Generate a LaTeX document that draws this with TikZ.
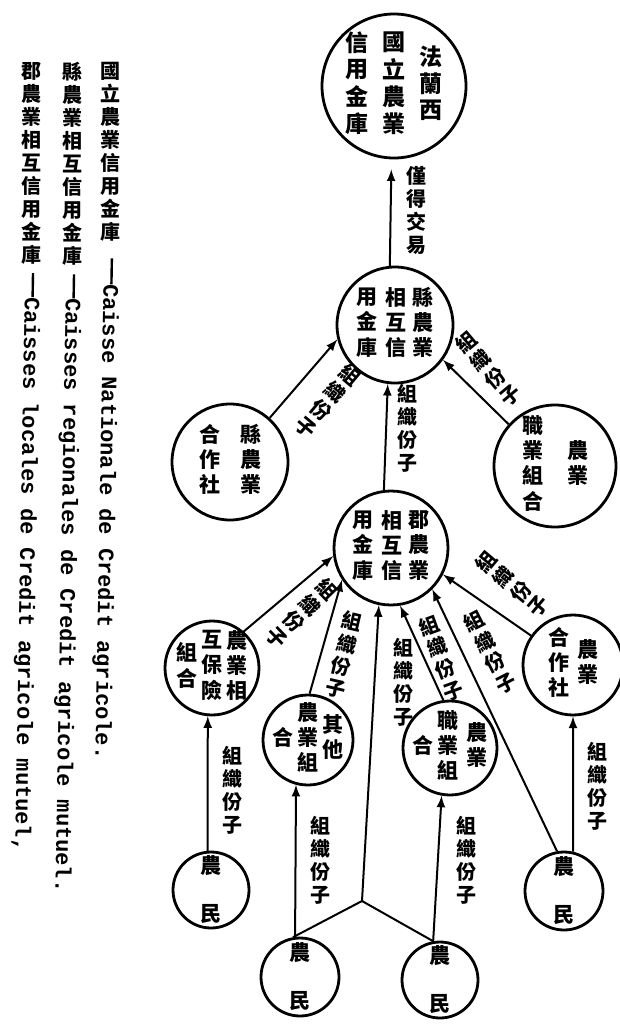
\documentclass[tikz,border=0pt]{standalone}
\usepackage{fontspec}
\newfontfamily\zh{Noto Sans CJK TC}
\newfontfamily\fr{Liberation Mono}
\usepackage{tikz}
\usetikzlibrary{arrows}
\newcommand{\tate}[1]{\begin{tabular}{@{}c@{}}#1\end{tabular}}
\tikzset{
  bank/.style={draw,circle,line width=1.4pt,inner sep=0pt,minimum size=#1},
  every label/.style={inner sep=0pt,align=center,font=\zh\bfseries\fontsize{10.5}{12}\selectfont},
  link/.style={-latex,line width=1pt},
  note/.style={inner sep=0pt,align=center,font=\zh\bfseries\fontsize{10}{11.5}\selectfont},
  roman/.style={inner sep=0pt,rotate=-91,anchor=west,font=\fr\bfseries\fontsize{11}{13}\selectfont},
}

\begin{document}
\begin{tikzpicture}[x=0.5pt,y=-0.5pt]
\useasboundingbox (0,0) rectangle (620,1033);
\node[bank=72pt,label={[font=\zh\bfseries\fontsize{11.5}{12.5}\selectfont]center:{\tate{信\\用\\金\\庫}\hspace{7pt}\tate{國\\立\\農\\業}\hspace{7pt}\tate{法\\蘭\\西}}}] (national) at (394,86) {};
\node[bank=58pt,label=center:{\tate{用\\金\\庫}\hspace{4pt}\tate{相\\互\\信}\hspace{3pt}\tate{縣\\農\\業}}] (regional) at (395,325) {};
\node[bank=57pt,label=center:{\tate{用\\金\\庫}\hspace{4pt}\tate{相\\互\\信}\hspace{3pt}\tate{郡\\農\\業}}] (local) at (391,548) {};
\node[bank=58pt,label=center:{\tate{合\\作\\社}\hspace{10pt}\tate{縣\\農\\業}}] (coopW) at (230,462) {};
\node[bank=61pt,label=center:{\tate{職\\業\\組\\合}\hspace{12pt}\tate{農\\業}}] (profE) at (555,466) {};
\node[bank=50pt,label=center:{\tate{合\\作\\社}\hspace{4pt}\tate{農\\業}}] (coopE) at (573,665) {};
\node[bank=47pt,label=center:{\tate{組\\合}\hspace{2pt}\tate{互\\保\\險}\hspace{2pt}\tate{農\\業\\相}}] (insur) at (212,668) {};
\node[bank=45pt,label=center:{\tate{合}\hspace{2pt}\tate{農\\業\\組}\hspace{2pt}\tate{其\\他}}] (other) at (308,740) {};
\node[bank=47pt,label=center:{\tate{合}\hspace{2pt}\tate{職\\業\\組}\hspace{4pt}\tate{農\\業}}] (profS) at (450,748) {};
\node[bank=39pt,label=center:{農\\[12pt]民}] (farmerE) at (564,891) {};
\node[bank=38pt,label=center:{農\\[12pt]民}] (farmerW) at (211,890) {};
\node[bank=39pt,label=center:{農\\[12pt]民}] (farmerS) at (300,977) {};
\node[bank=38pt,label=center:{農\\[12pt]民}] (farmerSE) at (440,980) {};

\draw[link,shorten >=5pt] (regional.95) -- (national.268);
\draw[link] (local.97) -- (regional.263);
\draw[link] (profE.138) -- (regional.324);
\draw[link] (coopW.48) -- (regional.194);
\draw[link] (coopE.145) -- (local.333);
\draw[link] (profS.98) -- (local.279);
\draw[link] (farmerE.100) -- (local.315);
\draw[link] (farmerE.77) -- (coopE.270);
\draw[link] (insur.49) -- (local.188);
\draw[link] (other.88) -- (local.213);
\coordinate (fork) at (362,901);
\draw[link] (farmerS.100) -- (fork) -- (local.258);
\draw[line width=1pt] (fork) -- (farmerSE.100);
\draw[link] (farmerSE.100) -- (profS.260);
\draw[link] (farmerS.97) -- (other.255);
\draw[link] (farmerW.95) -- (insur.265);

\node[note] (trade) at (416,210) {僅\\得\\交\\易};
\node[note] (m-local) at (407,428) {組\\織\\份\\子};
\node[note,rotate=40] (m-profE) at (488,369) {組\\織\\份\\子};
\node[note,rotate=-40] (m-coopW) at (328,401) {組\\織\\份\\子};
\node[note,rotate=-46] (m-insur) at (302,613) {組\\織\\份\\子};
\node[note,rotate=-13] (m-other) at (344,655) {組\\織\\份\\子};
\node[note] (m-fork) at (403,682) {組\\織\\份\\子};
\node[note,rotate=20] (m-profS) at (441,658) {組\\織\\份\\子};
\node[note,rotate=27] (m-farmerE) at (490,652) {組\\織\\份\\子};
\node[note,rotate=50] (m-coopE) at (512,584) {組\\織\\份\\子};
\node[note] (m-farmerW) at (232,790) {組\\織\\份\\子};
\node[note] (m-farmerS) at (320,860) {組\\織\\份\\子};
\node[note] (m-farmerSE) at (466,860) {組\\織\\份\\子};
\node[note] (m-farmerE2) at (597,786) {組\\織\\份\\子};

\node[note,anchor=north] (zh1) at (110,62) {國\\立\\農\\業\\信\\用\\金\\庫};
\node[roman] (fr1) at (zh1.south) {\hspace{8pt}\rule[.3em]{13pt}{1.2pt}Caisse Nationale de Credit agricole.};
\node[note,anchor=north] (zh2) at (72,62) {縣\\農\\業\\相\\互\\信\\用\\金\\庫};
\node[roman] (fr2) at (zh2.south) {\hspace{4pt}\rule[.3em]{12pt}{1.2pt}Caisses regionales de Credit agricole mutuel.};
\node[note,anchor=north] (zh3) at (31,62) {郡\\農\\業\\相\\互\\信\\用\\金\\庫};
\node[roman] (fr3) at (zh3.south) {\hspace{4pt}\rule[.3em]{12pt}{1.2pt}Caisses locales de Credit agricole mutuel,};
\end{tikzpicture}
\end{document}
